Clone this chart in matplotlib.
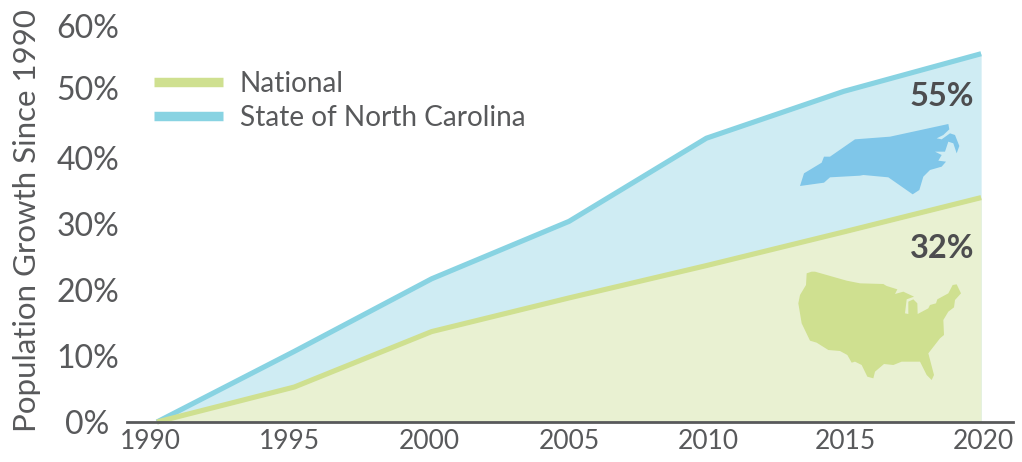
import matplotlib
matplotlib.use("Agg")
import matplotlib.pyplot as plt
from matplotlib.patches import Polygon
from matplotlib.lines import Line2D
from matplotlib.transforms import Affine2D

plt.rcParams['font.family'] = ['Lato', 'DejaVu Sans']

years = [1990, 1995, 2000, 2005, 2010, 2015, 2020]
national = [0, 5.3, 13.7, 18.8, 23.7, 28.8, 34]
north_carolina = [0, 10.7, 21.7, 30.4, 43.0, 50.1, 55.8]
y_ticks = [0, 10, 20, 30, 40, 50, 60]
y_labels = ['0%', '10%', '20%', '30%', '40%', '50%', '60%']
x_ticks = years
series_names = ['National', 'State of North Carolina']
callouts = ['32%', '55%']
y_title = 'Population Growth Since 1990'

TEXT = '#58595B'
GREEN_LINE, GREEN_FILL, GREEN_ICON = '#CFE090', '#E9F1D2', '#CFE090'
BLUE_LINE, BLUE_FILL, BLUE_ICON = '#88D3E2', '#CFECF3', '#7FC6E9'

W, H = 1022, 462
fig = plt.figure(figsize=(W / 100, H / 100), dpi=100)
ax = fig.add_axes([127 / W, 1 - 422 / H, (1013 - 127) / W, (422 - 26) / H])
ax.set_xlim(1988.91, 2021.16)
ax.set_ylim(0, 60)
for s in ['top', 'right', 'left']:
    ax.spines[s].set_visible(False)
ax.spines['bottom'].set_color(TEXT)
ax.spines['bottom'].set_linewidth(2)
ax.spines['bottom'].set_zorder(6)

ax.fill_between(years, north_carolina, 0, color=BLUE_FILL, lw=0, zorder=1)
ax.fill_between(years, national, 0, color=GREEN_FILL, lw=0, zorder=2)
ax.plot(years, north_carolina, color=BLUE_LINE, lw=3.7, zorder=3, clip_on=False,
        solid_capstyle='butt', solid_joinstyle='round')
ax.plot(years, national, color=GREEN_LINE, lw=3.7, zorder=4, clip_on=False,
        solid_capstyle='butt', solid_joinstyle='round')

ax.set_xticks(x_ticks)
ax.set_xticklabels([str(v) for v in x_ticks], fontsize=19, color=TEXT)
ax.set_yticks(y_ticks)
ax.set_yticklabels(y_labels, fontsize=23, color=TEXT)
ax.tick_params(axis='both', length=0)
ax.tick_params(axis='x', pad=5)
ax.tick_params(axis='y', pad=5.5)

ax.text(27 / W, 1 - 221 / H, y_title, transform=fig.transFigure, rotation=90,
        ha='center', va='center', fontsize=22.5, color=TEXT)

handles = [Line2D([], [], color=GREEN_LINE, lw=6.8, solid_capstyle='butt'),
           Line2D([], [], color=BLUE_LINE, lw=6.8, solid_capstyle='butt')]
ax.legend(handles, series_names, loc='upper left', bbox_to_anchor=(154 / W, 1 - 71 / H),
          bbox_transform=fig.transFigure, frameon=False, fontsize=20.2, labelcolor=TEXT,
          handlelength=2.46, handletextpad=0.6, labelspacing=0.27, borderaxespad=0, borderpad=0)

ax.text(974 / W, 1 - 97 / H, callouts[1], transform=fig.transFigure, ha='right', va='center',
        fontsize=23.5, fontweight='bold', color='#4D4D4F', zorder=7)
ax.text(974 / W, 1 - 248 / H, callouts[0], transform=fig.transFigure, ha='right', va='center',
        fontsize=23.5, fontweight='bold', color='#4D4D4F', zorder=7)

# decorative map glyphs, outlined in zoom-crop pixels
nc_outline = [(120,438),(132,400),(185,368),(192,350),(210,350),(285,298),(390,290),(565,252),
              (568,268),(550,285),(530,295),(545,298),(570,280),(585,285),(598,318),(590,340),
              (580,310),(565,305),(555,335),(525,335),(545,345),(535,362),(558,365),(545,380),
              (510,390),(490,410),(478,450),(458,463),(385,412),(310,405),(300,407),(210,412),
              (192,428)]
us_outline = [(140,160),(155,155),(165,155),(260,182),(300,190),(370,192),(380,198),(412,208),
              (405,222),(430,215),(462,230),(440,238),(435,280),(445,282),(445,245),(460,238),
              (472,250),(473,282),(505,265),(510,255),(528,250),(532,238),(565,220),(578,195),
              (590,193),(603,220),(585,240),(582,262),(565,275),(550,300),(552,345),(540,355),
              (505,400),(522,465),(515,480),(500,465),(480,425),(450,425),(425,425),(400,435),
              (372,432),(345,455),(340,475),(322,470),(305,435),(285,425),(275,428),(262,405),
              (240,393),(205,390),(170,368),(150,362),(125,310),(115,250),(120,225),(138,195)]

def glyph(outline, ox, oy, color):
    tr = Affine2D().scale(1 / 3, -1 / 3).translate(ox, H - oy)
    ax.add_patch(Polygon(outline, closed=True, facecolor=color, edgecolor='none',
                         transform=tr, zorder=5, clip_on=False))

glyph(nc_outline, 760, 40, BLUE_ICON)
glyph(us_outline, 760, 220, GREEN_ICON)

fig.canvas.draw()
y_shifts = {'50%': (0, 4), '0%': (-10, 0)}
for tick, lab in zip(ax.yaxis.get_major_ticks(), y_labels):
    if lab in y_shifts:
        dx, dy = y_shifts[lab]
        tick.label1.set_transform(tick.label1.get_transform() + Affine2D().translate(dx, dy))
x_shifts = {1990: -7, 1995: -5, 2000: -2, 2010: 2, 2015: 2, 2020: 2}
for tick, yr in zip(ax.xaxis.get_major_ticks(), x_ticks):
    if yr in x_shifts:
        tick.label1.set_transform(tick.label1.get_transform() + Affine2D().translate(x_shifts[yr], 0))

fig.savefig('out.png', dpi=100)
